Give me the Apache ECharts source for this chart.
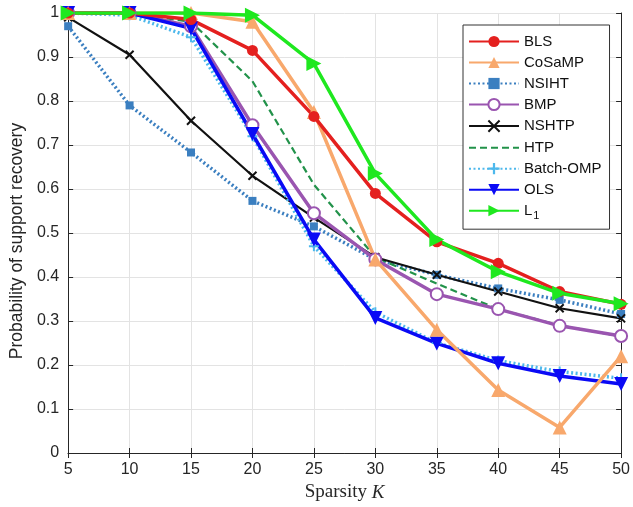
<!DOCTYPE html>
<html>
<head>
<meta charset="utf-8">
<script src="https://cdn.jsdelivr.net/npm/echarts@6/dist/echarts.min.js"></script>
<style>
  html, body { margin: 0; padding: 0; background: #fff; }
  #container { width: 633px; height: 507px; }
</style>
</head>
<body>
<div id="container"></div>
<script>
// 数据
var sparsity = [5, 10, 15, 20, 25, 30, 35, 40, 45, 50];
var bls      = [1.0, 1.0, 0.985, 0.915, 0.765, 0.59, 0.48, 0.431, 0.367, 0.338];
var cosamp   = [1.0, 1.0, 1.0, 0.98, 0.775, 0.44, 0.28, 0.143, 0.058, 0.22];
var nsiht    = [0.97, 0.79, 0.683, 0.573, 0.515, 0.44, 0.405, 0.374, 0.348, 0.316];
var bmp      = [1.0, 1.0, 0.97, 0.745, 0.545, 0.44, 0.361, 0.327, 0.289, 0.266];
var nshtp    = [0.99, 0.905, 0.755, 0.63, 0.535, 0.445, 0.405, 0.367, 0.329, 0.306];
var htp      = [1.0, 1.0, 0.98, 0.845, 0.61, 0.445, 0.385, 0.327, 0.29, 0.265];
var batchOmp = [1.0, 0.995, 0.945, 0.72, 0.47, 0.32, 0.25, 0.21, 0.185, 0.17];
var ols      = [1.0, 1.0, 0.965, 0.725, 0.485, 0.307, 0.249, 0.204, 0.175, 0.157];
var l1       = [1.0, 1.0, 1.0, 0.995, 0.885, 0.635, 0.485, 0.412, 0.363, 0.339];
var yTicks = [0, 0.1, 0.2, 0.3, 0.4, 0.5, 0.6, 0.7, 0.8, 0.9, 1];

var crossPath = 'path://M0,0L10,10M10,0L0,10';
var plusPath = 'path://M4,0H6V4H10V6H6V10H4V6H0V4H4Z';

function pairs(arr) {
    var out = [];
    for (var i = 0; i < sparsity.length; i++) {
        out.push([sparsity[i], arr[i]]);
    }
    return out;
}

function mkSeries(name, data, color, width, lineType, symbol, size, opts) {
    var s = {
        name: name,
        type: 'line',
        data: pairs(data),
        symbol: symbol,
        symbolSize: size,
        showAllSymbol: true,
        lineStyle: { color: color, width: width, type: lineType },
        itemStyle: { color: color, borderColor: color, borderWidth: 0 },
        emphasis: { disabled: true },
        animation: false
    };
    if (opts) {
        for (var k in opts) {
            s[k] = opts[k];
        }
    }
    return s;
}

var series = [
    mkSeries('NSIHT', nsiht, '#3b7fc0', 3.5, [2, 2.5], 'rect', 8),
    mkSeries('HTP', htp, '#22924a', 2.2, [7, 4], 'none', 0),
    mkSeries('NSHTP', nshtp, '#111111', 2.2, 'solid', crossPath, 8, {
        itemStyle: { color: 'none', borderColor: '#111', borderWidth: 2 }
    }),
    mkSeries('BMP', bmp, '#9a55b0', 3.5, 'solid', 'emptyCircle', 12, {
        itemStyle: { color: '#9a55b0', borderColor: '#9a55b0', borderWidth: 2.5 }
    }),
    mkSeries('Batch-OMP', batchOmp, '#4db8ec', 3.5, [2, 2.5], plusPath, 10),
    mkSeries('OLS', ols, '#0a0af5', 3.5, 'solid', 'triangle', 14, { symbolRotate: 180 }),
    mkSeries('CoSaMP', cosamp, '#f8a86c', 3.5, 'solid', 'triangle', 14),
    mkSeries('BLS', bls, '#e4201f', 3.5, 'solid', 'circle', 11),
    mkSeries('L1', l1, '#1fe81f', 3.5, 'solid', 'triangle', 15, { symbolRotate: -90 })
];

var legendOrder = ['BLS', 'CoSaMP', 'NSIHT', 'BMP', 'NSHTP',
    { name: 'HTP', itemStyle: { opacity: 0 } }, 'Batch-OMP', 'OLS', 'L1'];

var tickFont = { color: '#262626', fontFamily: 'Liberation Sans', fontSize: 16, margin: 9 };

var option = {
    backgroundColor: '#fff',
    animation: false,
    grid: { left: 67, right: 10, top: 13, bottom: 54, containLabel: false },
    legend: {
        data: legendOrder,
        orient: 'vertical',
        left: 463,
        top: 25,
        width: 147,
        itemWidth: 50,
        itemHeight: 14,
        itemGap: 6,
        padding: [9, 8, 8, 5],
        borderColor: '#333',
        borderWidth: 1,
        backgroundColor: '#fff',
        selectedMode: false,
        textStyle: {
            fontFamily: 'Liberation Sans',
            fontSize: 15,
            color: '#111',
            rich: {
                sub: { fontSize: 11, padding: [10, 0, 0, 1], fontFamily: 'Liberation Sans', color: '#111' }
            }
        },
        formatter: function (name) {
            if (name === 'L1') {
                return 'L{sub|1}';
            }
            return name;
        }
    },
    xAxis: [{
        type: 'value',
        min: 5,
        max: 50,
        interval: 5,
        position: 'bottom',
        name: 'Sparsity {i|K}',
        nameLocation: 'middle',
        nameGap: 30,
        nameTextStyle: {
            fontFamily: 'Liberation Serif',
            fontSize: 19,
            color: '#262626',
            rich: {
                i: { fontFamily: 'Liberation Serif', fontStyle: 'italic', fontSize: 19, color: '#262626' }
            }
        },
        axisLine: { show: true, lineStyle: { color: '#262626', width: 1 } },
        axisTick: { show: true, inside: true, length: 5, lineStyle: { color: '#262626' } },
        axisLabel: tickFont,
        splitLine: { show: true, lineStyle: { color: '#e3e3e3', width: 1 } }
    }, {
        type: 'value',
        min: 5,
        max: 50,
        interval: 5,
        position: 'top',
        axisLine: { show: true, lineStyle: { color: '#262626', width: 1 } },
        axisTick: { show: true, inside: true, length: 5, lineStyle: { color: '#262626' } },
        axisLabel: { show: false },
        splitLine: { show: false }
    }],
    yAxis: [{
        type: 'value',
        min: 0,
        max: 1,
        interval: 0.1,
        position: 'left',
        name: 'Probability of support recovery',
        nameLocation: 'middle',
        nameGap: 38,
        nameTextStyle: { fontFamily: 'Liberation Sans', fontSize: 17.5, color: '#262626', padding: [0, 16, 0, 0] },
        axisLine: { show: true, lineStyle: { color: '#262626', width: 1 } },
        axisTick: { show: true, inside: true, length: 5, lineStyle: { color: '#262626' } },
        axisLabel: {
            color: '#262626', fontFamily: 'Liberation Sans', fontSize: 16, margin: 9,
            formatter: function (v) {
                return yTicks.indexOf(Math.round(v * 10) / 10) >= 0 ? String(Math.round(v * 10) / 10) : '';
            }
        },
        splitLine: { show: true, lineStyle: { color: '#e3e3e3', width: 1 } }
    }, {
        type: 'value',
        min: 0,
        max: 1,
        interval: 0.1,
        position: 'right',
        axisLine: { show: true, lineStyle: { color: '#262626', width: 1 } },
        axisTick: { show: true, inside: true, length: 5, lineStyle: { color: '#262626' } },
        axisLabel: { show: false },
        splitLine: { show: false }
    }],
    series: series
};

var container = echarts.init(document.getElementById('container'));
container.setOption(option);
</script>
</body>
</html>
